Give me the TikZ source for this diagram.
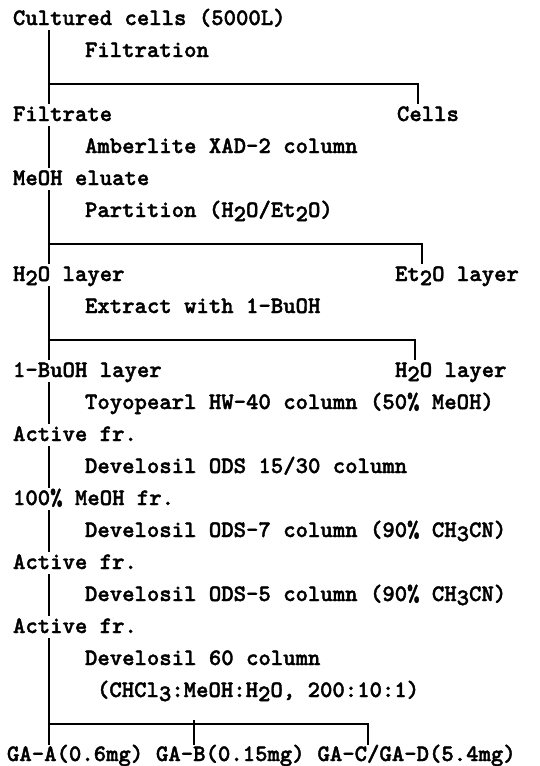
\documentclass[tikz,border=0pt]{standalone}
\usepackage{fontspec}
\newfontfamily\twfont{lmmonolt10-bold.otf}[FakeBold=1.6]
\newcommand\lw[1]{\raisebox{-0.4ex}{#1}}
\begin{document}
\begin{tikzpicture}[x=1pt,y=-1pt,
  lab/.style={anchor=base west,inner sep=0pt,outer sep=0pt,font=\fontsize{23.6}{26}\selectfont\twfont},
  conn/.style={line width=1.8pt}]
\useasboundingbox (0,0) rectangle (539,766);
% texts
\node[lab] (cult) at (13,25) {Cultured cells (5000L)};
\node[lab] (filtration) at (85,57) {Filtration};
\node[lab] (filtrate) at (13,121) {Filtrate};
\node[lab] (cells) at (397,121) {Cells};
\node[lab] (amber) at (85,153) {Amberlite XAD-2 column};
\node[lab] (meoh) at (13,185) {MeOH eluate};
\node[lab] (part) at (85,217) {Partition (H\lw{2}O/Et\lw{2}O)};
\node[lab] (h2o) at (13,281) {H\lw{2}O layer};
\node[lab] (et2o) at (395,281) {Et\lw{2}O layer};
\node[lab] (extract) at (85,313) {Extract with 1-BuOH};
\node[lab] (buoh) at (13,377) {1-BuOH layer};
\node[lab] (h2ob) at (395,377) {H\lw{2}O layer};
\node[lab] (toyo) at (85,409) {Toyopearl HW-40 column (50\% MeOH)};
\node[lab] (act1) at (13,441) {Active fr.};
\node[lab] (ods1) at (85,473) {Develosil ODS 15/30 column};
\node[lab] (meohfr) at (13,505) {100\% MeOH fr.};
\node[lab] (ods7) at (85,537) {Develosil ODS-7 column (90\% CH\lw{3}CN)};
\node[lab] (act2) at (13,569) {Active fr.};
\node[lab] (ods5) at (85,601) {Develosil ODS-5 column (90\% CH\lw{3}CN)};
\node[lab] (act3) at (13,633) {Active fr.};
\node[lab] (dev60) at (85,665) {Develosil 60 column};
\node[lab] (solv) at (97,697) {(CHCl\lw{3}:MeOH:H\lw{2}O, 200:10:1)};
\node[lab] (gaA) at (7,761) {GA-A(0.6mg)};
\node[lab] (gaB) at (156,761) {GA-B(0.15mg)};
\node[lab] (gaC) at (317.5,761) {GA-C/GA-D(5.4mg)};
% connectors
\draw[conn] ([shift={(36,5)}]cult.base west) -- ([shift={(36,-17)}]filtrate.base west);
\draw[conn] ([shift={(36,-37)}]filtrate.base west) -| ([shift={(21,-17)}]cells.base west);
\draw[conn] ([shift={(36,5)}]filtrate.base west) -- ([shift={(36,-17)}]meoh.base west);
\draw[conn] ([shift={(36,5)}]meoh.base west) -- ([shift={(36,-17)}]h2o.base west);
\draw[conn] ([shift={(36,-37)}]h2o.base west) -| ([shift={(27,-17)}]et2o.base west);
\draw[conn] ([shift={(36,5)}]h2o.base west) -- ([shift={(36,-17)}]buoh.base west);
\draw[conn] ([shift={(36,-37)}]buoh.base west) -| ([shift={(20,-17)}]h2ob.base west);
\draw[conn] ([shift={(36,5)}]buoh.base west) -- ([shift={(36,-17)}]act1.base west);
\draw[conn] ([shift={(36,5)}]act1.base west) -- ([shift={(36,-17)}]meohfr.base west);
\draw[conn] ([shift={(36,5)}]meohfr.base west) -- ([shift={(36,-17)}]act2.base west);
\draw[conn] ([shift={(36,5)}]act2.base west) -- ([shift={(36,-17)}]act3.base west);
\draw[conn] ([shift={(36,5)}]act3.base west) -- ([shift={(42,-16)}]gaA.base west);
\draw[conn] ([shift={(42,-37)}]gaA.base west) -| ([shift={(50.5,-16)}]gaC.base west);
\draw[conn] ([shift={(38,-41)}]gaB.base west) -- ([shift={(38,-16)}]gaB.base west);
\end{tikzpicture}
\end{document}
